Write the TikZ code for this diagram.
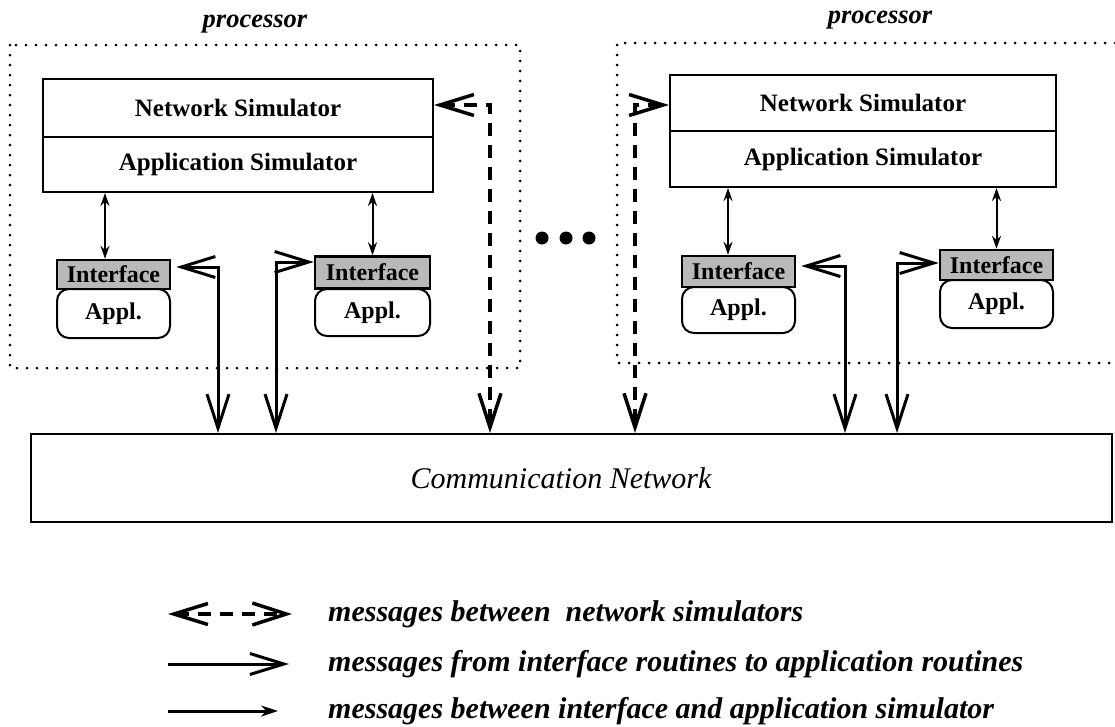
\documentclass[tikz,border=0pt]{standalone}
\usepackage{fontspec}
\setmainfont{Liberation Serif}
\usetikzlibrary{arrows.meta}
\begin{document}
\begin{tikzpicture}[x=1pt,y=-1pt,
  procbox/.style={line width=3pt, dash pattern=on 0pt off 10pt, line cap=round},
  simbox/.style={draw, line width=2pt, inner sep=0pt, font=\fontsize{25}{28}\selectfont\bfseries},
  ifbox/.style={draw, line width=2.5pt, fill=gray!55, inner sep=0pt, minimum width=113pt, font=\fontsize{24}{26}\selectfont\bfseries},
  applbox/.style={draw, line width=2pt, rounded corners=12pt, inner sep=0pt, minimum width=113pt, font=\fontsize{24}{28}\selectfont\bfseries},
  proclabel/.style={font=\fontsize{26.5}{30}\selectfont\bfseries\itshape},
  bigarrow/.style={line width=3pt, {Straight Barb[length=34pt,width=21pt]}-{Straight Barb[length=34pt,width=22pt]}},
  dasharrow/.style={line width=3.5pt, dash pattern=on 13pt off 9pt, {Straight Barb[length=34pt,width=21pt]}-{Straight Barb[length=34pt,width=22pt]}},
  smallarrow/.style={line width=2pt, {Stealth[length=13pt,width=9pt]}-{Stealth[length=13pt,width=9pt]}},
  legbarb/.style={line width=3pt, -{Straight Barb[length=34pt,width=21pt]}},
  legsmall/.style={line width=3pt, -{Stealth[length=17pt,width=11pt]}},
  legtext/.style={anchor=west, inner sep=0pt, font=\fontsize{30}{34}\selectfont\bfseries\itshape}
]
\useasboundingbox (0,0) rectangle (1115,726);

% processor regions
\draw[procbox] (10,45) rectangle (520,368);
\draw[procbox] (1115,43) -- (617,43) -- (617,363) -- (1115,363);
\node[proclabel] (p1) at (255,24) {processor};
\node[proclabel] (p2) at (880,20) {processor};

% simulators
\node[simbox, minimum width=390pt, minimum height=58pt] (ns1) at (238,108) {Network Simulator};
\node[simbox, minimum width=390pt, minimum height=55pt] (as1) at (238,164.5) {Application Simulator};
\node[simbox, minimum width=386pt, minimum height=56pt] (ns2) at (863,103) {Network Simulator};
\node[simbox, minimum width=386pt, minimum height=56pt] (as2) at (863,159) {Application Simulator};

% applications and interfaces
\node[applbox, minimum height=49pt] (ap1) at (113.5,313.5) {Appl.};
\node[ifbox, minimum height=29pt] (if1) at (113.5,274.5) {Interface};
\node[applbox, minimum width=115pt, minimum height=47pt] (ap2) at (372.5,312.5) {Appl.};
\node[ifbox, minimum width=115pt, minimum height=32pt] (if2) at (372.5,272.5) {Interface};
\node[applbox, minimum height=46pt] (ap3) at (738.5,310) {Appl.};
\node[ifbox, minimum height=31pt] (if3) at (738.5,271.5) {Interface};
\node[applbox, minimum height=48pt] (ap4) at (996.5,304) {Appl.};
\node[ifbox, minimum height=30pt] (if4) at (996.5,265) {Interface};

% network
\node[draw, line width=2pt, minimum width=1081pt, minimum height=88pt, inner sep=0pt] (net) at (571.5,478) {};
\node[font=\fontsize{30}{34}\selectfont\itshape] (netlabel) at (561,478) {Communication Network};

% ellipsis
\fill (542,238) circle (6.5pt);
\fill (566,238) circle (6.5pt);
\fill (589,238) circle (6.5pt);

% column coordinates
\coordinate (v1) at (218,0);
\coordinate (v2) at (276,0);
\coordinate (v3) at (845,0);
\coordinate (v4) at (897,0);
\coordinate (d1) at (490,0);
\coordinate (d2) at (635,0);

% simulator <-> interface
\draw[smallarrow] ([xshift=-8.5pt]if1.north) -- ([xshift=-8.5pt]if1.north |- as1.south);
\draw[smallarrow] (if2.north) -- (if2.north |- as1.south);
\draw[smallarrow] ([xshift=-10.5pt]if3.north) -- ([xshift=-10.5pt]if3.north |- as2.south);
\draw[smallarrow] (if4.north) -- (if4.north |- as2.south);

% interface <-> network
\draw[bigarrow] ([xshift=5pt,yshift=7.5pt]if1.east) -| (v1 |- net.north);
\draw[bigarrow] ([yshift=10.5pt]if2.west) -| (v2 |- net.north);
\draw[bigarrow] ([xshift=5pt,yshift=5.5pt]if3.east) -| (v3 |- net.north);
\draw[bigarrow] ([yshift=2pt]if4.west) -| (v4 |- net.north);

% network simulator <-> network
\draw[dasharrow] ([yshift=3pt]ns1.east) -| (d1 |- net.north);
\draw[dasharrow] ([yshift=-2pt]ns2.west) -| (d2 |- net.north);

% legend
\coordinate (a1s) at (168,614);
\coordinate (a1e) at (292,614);
\coordinate (a2s) at (168,664);
\coordinate (a2e) at (289,664);
\coordinate (a3s) at (168,711);
\coordinate (a3e) at (278,711);
\draw[dasharrow] (a1s) -- (a1e);
\draw[legbarb] (a2s) -- (a2e);
\draw[legsmall] (a3s) -- (a3e);
\node[legtext] (t1) at (328,614) {messages between\ \ network simulators};
\node[legtext] (t2) at (328,664) {messages from interface routines to application routines};
\node[legtext] (t3) at (328,711) {messages between interface and application simulator};
\end{tikzpicture}
\end{document}
